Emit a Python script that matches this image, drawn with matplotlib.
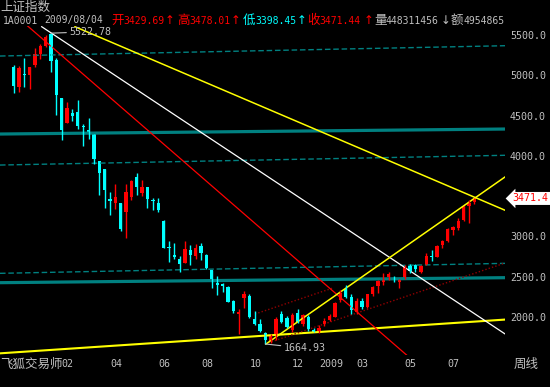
import matplotlib
matplotlib.use("Agg")
import matplotlib.pyplot as plt
import matplotlib.transforms as mtransforms

# weekly candles of 上证指数, late Nov 2007 .. first week Aug 2009 (x = week number)
opens = [5107, 4851, 5020, 5004, 5128, 5260, 5367, 5512, 5194, 4718,
         4412, 4532, 4545, 4374, 4321, 4275, 3940, 3833, 3465, 3419,
         3419, 3307, 3493, 3738, 3543, 3614, 3450, 3419, 3196, 2873,
         2770, 2720, 2670, 2832, 2757, 2881, 2770, 2584, 2422, 2400,
         2373, 2199, 2037, 2236, 2261, 1976, 1914, 1802, 1702, 1777,
         2034, 1988, 1839, 2046, 1914, 2004, 1840, 1827, 1914, 1964,
         2004, 2211, 2344, 2253, 2066, 2200, 2128, 2290, 2380, 2440,
         2500, 2480, 2440, 2480, 2630, 2640, 2560, 2650, 2760, 2745,
         2890, 2940, 3080, 3100, 3200, 3380, 3429.69]
highs = [5128, 5112, 5218, 5107, 5339, 5392, 5500, 5522.78, 5211, 4718,
         4665, 4582, 4693, 4396, 4470, 4275, 3940, 3833, 3555, 3654,
         3419, 3654, 3700, 3787, 3700, 3614, 3477, 3477, 3205, 2944,
         2919, 2757, 2944, 2894, 2906, 2919, 2782, 2584, 2509, 2422,
         2380, 2211, 2100, 2323, 2280, 2075, 1976, 1810, 1790, 2000,
         2075, 2010, 2050, 2100, 2040, 2020, 1860, 1900, 1990, 2040,
         2190, 2330, 2402, 2290, 2230, 2240, 2290, 2390, 2460, 2540,
         2560, 2510, 2470, 2640, 2660, 2660, 2640, 2790, 2830, 2890,
         2960, 3100, 3130, 3230, 3380, 3455, 3478.01]
lows = [4784, 4796, 4851, 4826, 5107, 5206, 5347, 5045, 4507, 4197,
        4412, 4436, 4333, 4126, 4209, 3895, 3514, 3357, 3266, 3340,
        3068, 2984, 3452, 3514, 3502, 3357, 3328, 3303, 2860, 2683,
        2720, 2559, 2670, 2646, 2720, 2708, 2600, 2360, 2273, 2310,
        2180, 2050, 1789, 2112, 1990, 1900, 1814, 1664.93, 1680, 1720,
        1920, 1860, 1820, 1930, 1890, 1830, 1810, 1800, 1890, 1950,
        2000, 2190, 2230, 2037, 2040, 2100, 2110, 2260, 2300, 2400,
        2460, 2430, 2360, 2470, 2550, 2560, 2550, 2640, 2700, 2740,
        2860, 2930, 3020, 3080, 3190, 3167, 3398.45]
closes = [4867, 5094, 5005, 5107, 5264, 5367, 5479, 5181, 4755, 4321,
          4590, 4499, 4371, 4354, 4300, 3957, 3791, 3576, 3444, 3493,
          3092, 3555, 3688, 3617, 3614, 3469, 3440, 3328, 2860, 2860,
          2749, 2658, 2844, 2770, 2857, 2791, 2608, 2460, 2398, 2390,
          2186, 2075, 2062, 2286, 2000, 1914, 1827, 1715, 1765, 1976,
          1942, 1877, 2022, 1942, 2022, 1848, 1820, 1860, 1951, 2013,
          2170, 2294, 2253, 2082, 2194, 2128, 2281, 2374, 2444, 2452,
          2530, 2460, 2450, 2621, 2570, 2600, 2632, 2752, 2743, 2880,
          2940, 3088, 3113, 3189, 3372, 3412, 3471.44]

tick_weeks = [9, 18, 27, 35, 44, 52, 57, 64, 73, 81]
tick_labels = ["02", "04", "06", "08", "10", "12", "2009", "03", "05", "07"]
price_ticks = [5500, 5000, 4500, 4000, 3000, 2500, 2000]

# drawn trend lines: (week, price) -> (week, price)
red_line = [(2.5, 5620), (74, 1490)]
white_line = [(5.26, 5603), (91.7, 1790)]
yellow_down = [(11.47, 5603), (91.7, 3325)]
yellow_up = [(47.1, 1665), (91.7, 3738)]
yellow_base = [(-2.52, 1549), (91.7, 1968)]
darkred_upper = [(45.05, 2037), (59.6, 2360)]
darkred_lower = [(46.9, 1665), (91.7, 2670)]
teal_solid = [[(-2.52, 4271), (91.7, 4333)], [(-2.52, 2426), (91.7, 2488)]]
teal_dashed = [[(-2.52, 5239), (91.7, 5367)], [(-2.52, 3886), (91.7, 4007)],
               [(-2.52, 2542), (91.7, 2666)]]

GRAY = "#c0c0c0"
RED = "#ff0000"
CYAN = "#00ffff"
CJK = ["Noto Sans CJK SC", "DejaVu Sans"]
MONO = "DejaVu Sans Mono"

W, H = 550, 387
fig = plt.figure(figsize=(5.5, 3.87), dpi=100, facecolor="black")
ax = fig.add_axes([0, 1 - 355 / H, 505 / W, 329 / H])
ax.set_facecolor("black")
ax.set_xlim(-2.519, 91.70)
ax.set_ylim(1528.4, 5611.7)
for s in ax.spines.values():
    s.set_visible(False)


def seg(line, **kw):
    (x0, y0), (x1, y1) = line
    ax.plot([x0, x1], [y0, y1], **kw)


# channels
for ln in teal_solid:
    seg(ln, color="#008080", lw=2.3, solid_capstyle="butt")
for ln in teal_dashed:
    seg(ln, color="#008080", lw=1, linestyle=(0, (4, 2)))

seg(yellow_base, color="#ffff00", lw=1.5)
seg(darkred_upper, color="#900000", lw=1, linestyle=(0, (1, 1.5)))
seg(darkred_lower, color="#900000", lw=1, linestyle=(0, (1, 1.5)))
seg(red_line, color=RED, lw=0.9)
seg(white_line, color="white", lw=0.9)
seg(yellow_down, color="#ffff00", lw=1.1)
seg(yellow_up, color="#ffff00", lw=1.1)

# candles
for i in range(len(opens)):
    o, h, l, c = opens[i], highs[i], lows[i], closes[i]
    col = RED if c >= o else CYAN
    ax.vlines(i, l, h, color=col, lw=1)
    ax.bar(i, max(abs(c - o), 14), bottom=min(o, c), width=0.62, color=col, linewidth=0)

# high / low marks
ax.annotate("5522.78", xy=(7, 5522.78), xytext=(13, 1), textcoords="offset points",
            color=GRAY, fontsize=7.2, family=MONO, va="center",
            arrowprops=dict(arrowstyle="-", color=GRAY, lw=0.8, shrinkA=0, shrinkB=0))
ax.annotate("1664.93", xy=(47, 1664.93), xytext=(13, -3), textcoords="offset points",
            color=GRAY, fontsize=7.2, family=MONO, va="center",
            arrowprops=dict(arrowstyle="-", color=GRAY, lw=0.8, shrinkA=0, shrinkB=0))

# axes labels
ax.yaxis.tick_right()
ax.set_yticks(price_ticks)
ax.set_yticklabels([f"{p:.1f}" for p in price_ticks], color=GRAY, fontsize=7.2, family=MONO)
ax.tick_params(axis="y", length=0, pad=3.6)
ax.set_xticks(tick_weeks)
ax.set_xticklabels(tick_labels, color=GRAY, fontsize=7.2, family=MONO, ha="left")
ax.tick_params(axis="x", length=0, pad=3)

# last price tag
tr = mtransforms.blended_transform_factory(ax.transAxes, ax.transData)
ax.text(1.015, closes[-1], f"{closes[-1]:.1f}", transform=tr, color=RED, fontsize=7.2,
        family=MONO, va="center", ha="left", clip_on=False,
        bbox=dict(boxstyle="larrow,pad=0.15", fc="white", ec="none"))


def ftext(px, py, s, color=GRAY, cjk=False, size=None, family=None):
    fam = family or (CJK if cjk else MONO)
    fig.text(px / W, 1 - py / H, s, color=color, family=fam,
             fontsize=size or (9 if cjk else 7.0), va="center", ha="left")


ftext(0, 7.5, "上证指数", cjk=True)
header = [
    (3, "1A0001", GRAY, False), (44, "2009/08/04", GRAY, False),
    (111, "开", RED, True), (123, "3429.69", RED, False), (165, "↑", RED, False),
    (177, "高", RED, True), (189, "3478.01", RED, False), (231, "↑", RED, False),
    (243, "低", CYAN, True), (255, "3398.45", CYAN, False), (297, "↑", CYAN, False),
    (307, "收", RED, True), (319, "3471.44", RED, False), (364, "↑", RED, False),
    (374, "量", GRAY, True), (386, "448311456", GRAY, False), (441, "↓", GRAY, False),
    (451, "额", GRAY, True), (463, "4954865", GRAY, False),
]
for px, s, col, cj in header:
    if s in ("↑", "↓"):
        ftext(px, 20.5, s, color=col, size=8.5, family="DejaVu Sans")
    else:
        ftext(px, 20.5, s, color=col, cjk=cj)

ftext(0, 364, "飞狐交易师", cjk=True)
ftext(514, 364, "周线", cjk=True)

fig.savefig("out.png", dpi=100, facecolor="black")
